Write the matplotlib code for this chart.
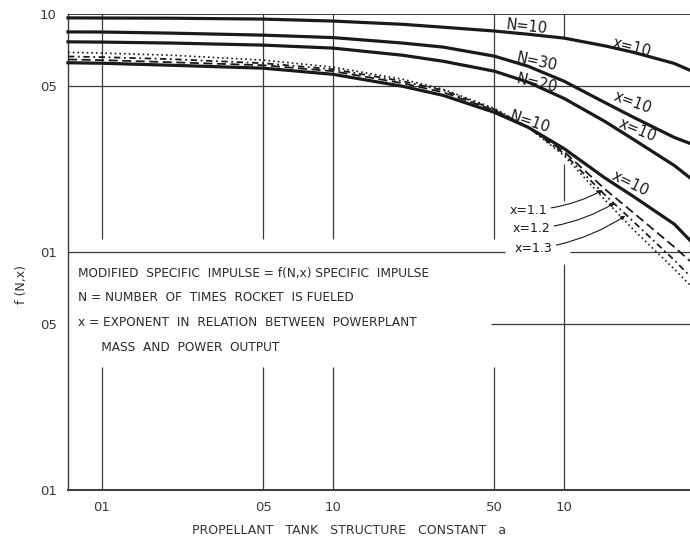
import numpy as np
import matplotlib
matplotlib.use('Agg')
from matplotlib import pyplot as plt

# propellant tank structure constant a
a_vals = [0.000713, 0.001, 0.002, 0.005, 0.01, 0.02, 0.03, 0.05, 0.07, 0.1, 0.15, 0.2, 0.3, 0.351]

# f(N, x)
f_n1_top = [0.963, 0.962, 0.96, 0.952, 0.934, 0.905, 0.88, 0.848, 0.822, 0.792, 0.735, 0.69, 0.62, 0.58]
f_n3 = [0.841, 0.840, 0.831, 0.815, 0.796, 0.755, 0.726, 0.665, 0.603, 0.522, 0.425, 0.368, 0.303, 0.286]
f_n2 = [0.764, 0.762, 0.755, 0.740, 0.719, 0.671, 0.633, 0.575, 0.517, 0.442, 0.354, 0.297, 0.231, 0.205]
f_n1_x10 = [0.624, 0.621, 0.609, 0.592, 0.558, 0.497, 0.455, 0.386, 0.334, 0.272, 0.205, 0.171, 0.131, 0.112]
f_n1_x11 = [0.644, 0.640, 0.627, 0.609, 0.575, 0.512, 0.469, 0.394, 0.334, 0.264, 0.184, 0.146, 0.105, 0.0916]
f_n1_x12 = [0.663, 0.659, 0.646, 0.621, 0.586, 0.522, 0.478, 0.397, 0.334, 0.259, 0.174, 0.134, 0.0925, 0.0792]
f_n1_x13 = [0.690, 0.685, 0.671, 0.640, 0.598, 0.532, 0.483, 0.401, 0.334, 0.254, 0.166, 0.124, 0.0848, 0.0726]

x_ticks = [0.001, 0.005, 0.01, 0.05, 0.1]
x_tick_labels = ['01', '05', '10', '50', '10']
y_ticks = [1.0, 0.5, 0.1, 0.05, 0.01]
y_tick_labels = ['10', '05', '01', '05', '01']

notes = ['MODIFIED  SPECIFIC  IMPULSE = f(N,x) SPECIFIC  IMPULSE',
         'N = NUMBER  OF  TIMES  ROCKET  IS FUELED',
         'x = EXPONENT  IN  RELATION  BETWEEN  POWERPLANT',
         '      MASS  AND  POWER  OUTPUT']

ink = '#1a1a1a'
grid_ink = '#3a3a3a'

fig = plt.figure(figsize=(6.9, 5.41), dpi=100)
ax = fig.add_axes([68 / 690, 51 / 541, 1 - 68 / 690, (490 - 14) / 541])
ax.set_xscale('log')
ax.set_yscale('log')
ax.set_xlim(0.000713, 0.351)
ax.set_ylim(0.01, 1.0)

for s in ['top', 'right']:
    ax.spines[s].set_visible(False)
ax.spines['left'].set_color(grid_ink)
ax.spines['bottom'].set_color(grid_ink)
ax.spines['left'].set_linewidth(1.0)
ax.spines['bottom'].set_linewidth(1.4)

# grid, broken where the drafting left room for labels
gkw = dict(color=grid_ink, lw=0.9, solid_capstyle='butt', zorder=1)
for xv in x_ticks[:-1]:
    ax.plot([xv, xv], [1.0, 0.113], **gkw)
    ax.plot([xv, xv], [0.033, 0.01], **gkw)
ax.plot([0.1, 0.1], [1.0, 0.80], **gkw)
ax.plot([0.1, 0.1], [0.235, 0.164], **gkw)
ax.plot([0.1, 0.1], [0.089, 0.01], **gkw)
ax.plot([0.000713, 0.351], [1.0, 1.0], color=grid_ink, lw=1.4, zorder=1)
ax.plot([0.000713, 0.351], [0.5, 0.5], **gkw)
ax.plot([0.000713, 0.0556], [0.1, 0.1], **gkw)
ax.plot([0.1064, 0.351], [0.1, 0.1], **gkw)
ax.plot([0.0483, 0.351], [0.05, 0.05], **gkw)

# curves
ckw = dict(color=ink, zorder=3, clip_on=False)
ax.plot(a_vals, f_n1_top, lw=2.3, **ckw)
ax.plot(a_vals, f_n3, lw=2.3, **ckw)
ax.plot(a_vals, f_n2, lw=2.3, **ckw)
ax.plot(a_vals, f_n1_x10, lw=2.3, **ckw)
ax.plot(a_vals, f_n1_x11, lw=1.3, dashes=(5, 2.5), **ckw)
ax.plot(a_vals, f_n1_x12, lw=1.3, dashes=(3.5, 2, 1, 2), **ckw)
ax.plot(a_vals, f_n1_x13, lw=1.2, dashes=(1, 1.8), **ckw)

ax.set_xticks(x_ticks)
ax.set_xticklabels(x_tick_labels)
ax.set_yticks(y_ticks)
ax.set_yticklabels(y_tick_labels)
ax.minorticks_off()
ax.tick_params(length=0, pad=8, labelsize=9.5, labelcolor='#3a3a3a')

tkw = dict(fontsize=10.5, color=ink, ha='center', va='center', zorder=4)
ax.text(0.0692, 0.881, 'N=10', rotation=-6, **tkw)
ax.text(0.197, 0.726, 'x=10', rotation=-14, **tkw)
ax.text(0.0764, 0.627, 'N=30', rotation=-12, **tkw)
ax.text(0.0764, 0.512, 'N=20', rotation=-13, **tkw)
ax.text(0.199, 0.425, 'x=10', rotation=-20, **tkw)
ax.text(0.209, 0.324, 'x=10', rotation=-22, **tkw)
ax.text(0.0711, 0.350, 'N=10', rotation=-18, **tkw)
ax.text(0.193, 0.194, 'x=10', rotation=-26, **tkw)

akw = dict(fontsize=9, color=ink, ha='right', va='center',
           arrowprops=dict(arrowstyle='-|>', color=ink, lw=0.8, mutation_scale=6,
                           shrinkA=1, shrinkB=0, connectionstyle='arc3,rad=0.12'))
ax.annotate('x=1.1', xy=(0.147, 0.182), xytext=(0.0845, 0.150), **akw)
ax.annotate('x=1.2', xy=(0.166, 0.161), xytext=(0.087, 0.125), **akw)
ax.annotate('x=1.3', xy=(0.184, 0.142), xytext=(0.089, 0.103), **akw)

for i, line in enumerate(notes):
    fig.text(78 / 690, 1 - (273 + 24.7 * i) / 541, line, fontsize=8.7,
             color='#2a2a2a', ha='left', va='center')

fig.text(22 / 690, 1 - 285 / 541, 'f (N,x)', rotation=90, fontsize=9,
         color='#333333', ha='center', va='center')
fig.text(349 / 690, 1 - 531 / 541, 'PROPELLANT   TANK   STRUCTURE   CONSTANT   a',
         fontsize=9, color='#333333', ha='center', va='center')

fig.savefig('out.png', dpi=100)
